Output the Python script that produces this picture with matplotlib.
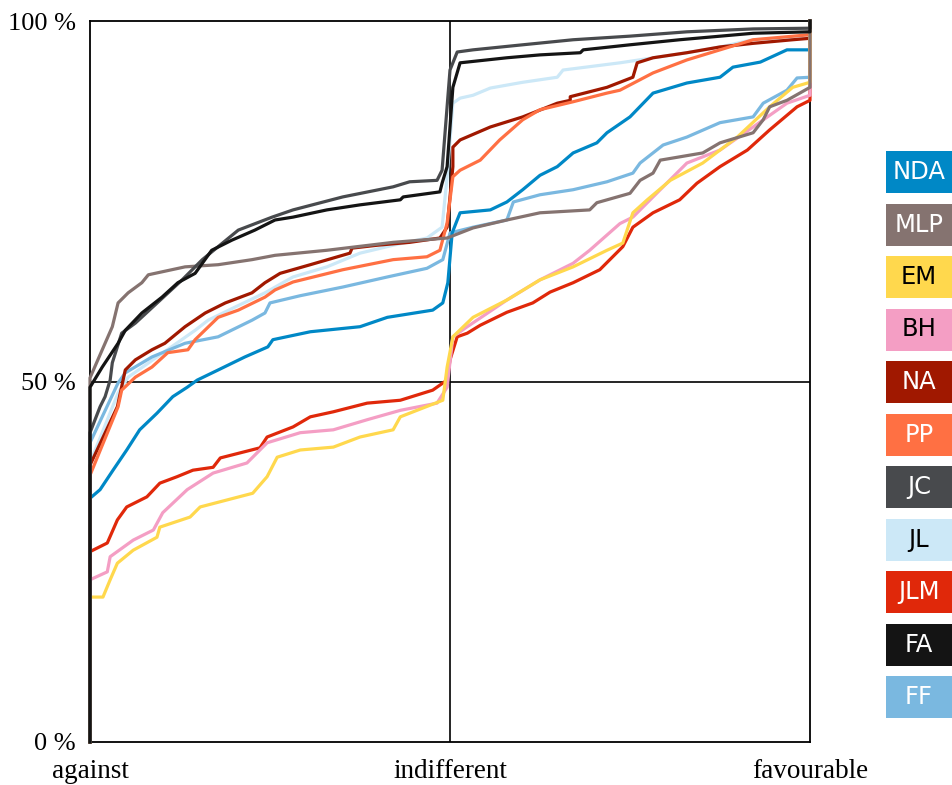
import matplotlib
matplotlib.use("Agg")
import matplotlib.pyplot as plt
from matplotlib.patches import Rectangle

# opinion scale: 0 = against, 50 = indifferent, 100 = favourable ; y = cumulative share (%)
nda_x = [0, 0, 1.4, 3.2, 5.1, 6.9, 9.3, 11.5, 13.5, 14.9, 17.8, 21.5, 24.7, 25.4, 30.6, 37.5, 41.3, 47.6, 49.0, 49.7,
         50.3, 51.0, 51.4, 55.6, 57.9, 60.1, 62.5, 64.9, 67.1, 70.4, 71.8, 75.0, 78.2, 82.9, 87.5, 89.3, 93.1, 96.8, 100, 100]
nda_y = [0, 33.8, 35.0, 37.7, 40.5, 43.3, 45.6, 47.9, 49.2, 50.2, 51.6, 53.4, 54.8, 55.8, 56.9, 57.6, 58.9, 59.9, 60.9, 63.7,
         70.6, 72.4, 73.4, 73.8, 74.9, 76.6, 78.6, 79.8, 81.7, 83.1, 84.5, 86.7, 90.0, 91.4, 92.2, 93.6, 94.3, 96.0, 96.0, 100]

mlp_x = [0, 0, 1.7, 3.1, 3.9, 5.3, 7.2, 8.1, 13.2, 17.8, 22.5, 25.7, 32.9, 42.1, 49.6, 53.2, 57.9, 62.5, 69.4, 70.4,
         75.0, 76.4, 78.2, 79.2, 85.1, 87.5, 92.1, 93.5, 94.4, 96.8, 100, 100]
mlp_y = [0, 50.5, 54.4, 57.6, 60.9, 62.3, 63.7, 64.8, 65.9, 66.2, 66.9, 67.5, 68.2, 69.3, 69.9, 71.3, 72.4, 73.4, 73.8, 74.8,
         76.1, 77.9, 78.9, 80.7, 81.7, 83.1, 84.5, 86.3, 88.1, 89.0, 90.8, 100]

em_x = [0, 0, 1.8, 2.8, 3.8, 6.0, 9.3, 9.7, 13.9, 15.3, 22.6, 24.6, 26.0, 29.2, 33.8, 37.5, 42.1, 43.1, 49.0, 49.6,
        50.4, 53.2, 57.9, 62.5, 67.1, 71.8, 74.0, 75.4, 77.4, 80.6, 85.1, 89.9, 94.4, 97.6, 100, 100]
em_y = [0, 20.1, 20.1, 22.5, 24.8, 26.6, 28.4, 29.8, 31.2, 32.6, 34.5, 36.8, 39.5, 40.5, 40.9, 42.3, 43.3, 45.1, 47.4, 52.0,
        56.2, 58.9, 61.3, 64.1, 65.9, 68.2, 69.2, 73.4, 75.2, 77.9, 80.3, 83.9, 88.1, 90.8, 91.5, 100]

bh_x = [0, 0, 2.4, 2.8, 6.0, 8.8, 10.1, 13.5, 17.1, 21.8, 24.6, 29.2, 33.8, 38.5, 43.1, 48.2, 49.6, 50.4, 52.4, 57.9,
        62.5, 67.1, 69.4, 73.6, 75.4, 78.2, 82.9, 87.5, 92.1, 96.8, 100, 100]
bh_y = [0, 22.5, 23.6, 25.7, 28.0, 29.4, 31.8, 35.0, 37.3, 38.7, 41.5, 42.9, 43.3, 44.7, 46.0, 47.0, 49.2, 56.2, 57.6, 61.3,
        64.1, 66.4, 68.2, 71.9, 72.8, 75.6, 80.3, 82.1, 85.3, 88.6, 89.7, 100]

na_x = [0, 0, 3.8, 4.9, 6.3, 8.6, 10.4, 13.2, 16.0, 18.8, 22.5, 24.3, 26.4, 30.6, 36.1, 36.4, 39.9, 44.4, 48.6, 49.6,
        50.4, 50.4, 51.4, 55.6, 60.1, 64.9, 66.7, 66.7, 71.8, 75.4, 76.0, 78.2, 82.9, 87.5, 92.1, 97.6, 100, 100]
na_y = [0, 38.4, 46.5, 51.6, 53.0, 54.4, 55.3, 57.6, 59.5, 60.9, 62.3, 63.7, 65.0, 66.2, 67.8, 68.5, 68.9, 69.3, 69.9, 71.4,
        79.8, 82.5, 83.5, 85.3, 86.7, 88.6, 89.0, 89.5, 90.8, 92.2, 94.2, 94.9, 95.6, 96.4, 96.9, 97.4, 97.6, 100]

pp_x = [0, 0, 3.9, 4.4, 6.3, 8.6, 10.8, 13.6, 14.6, 17.8, 20.6, 24.3, 25.7, 28.2, 35.1, 42.1, 46.8, 48.6, 49.6, 50.4,
        51.4, 54.2, 56.9, 60.1, 62.5, 67.1, 71.8, 73.6, 78.2, 82.9, 87.5, 92.1, 100, 100]
pp_y = [0, 37.0, 46.5, 48.8, 50.6, 52.0, 54.0, 54.4, 55.8, 58.9, 59.9, 61.7, 62.7, 63.8, 65.5, 66.9, 67.3, 68.2, 72.0, 78.4,
        79.3, 80.7, 83.5, 86.3, 87.7, 88.8, 90.0, 90.4, 92.8, 94.6, 96.0, 97.4, 98.1, 100]

jc_x = [0, 0, 1.4, 2.1, 2.8, 3.1, 4.4, 6.3, 12.8, 15.6, 20.6, 25.3, 28.2, 35.1, 42.1, 44.4, 48.2, 48.9, 50.0, 51.0,
        53.2, 60.1, 67.1, 75.0, 82.9, 92.1, 100, 100]
jc_y = [0, 42.9, 46.5, 47.9, 50.2, 52.6, 56.7, 58.1, 64.1, 66.9, 71.0, 72.8, 73.8, 75.6, 77.0, 77.7, 77.9, 79.3, 93.2, 95.7,
        96.0, 96.7, 97.4, 97.9, 98.5, 98.9, 99.0, 100]

jl_x = [0, 0, 3.9, 5.3, 14.6, 16.4, 20.1, 24.3, 28.2, 32.9, 37.5, 42.1, 46.8, 48.9, 49.6, 50.4, 51.4, 53.2, 55.6, 60.1,
        64.9, 65.7, 73.6, 82.9, 87.5, 92.1, 100, 100]
jl_y = [0, 38.7, 48.4, 50.6, 57.1, 58.5, 60.3, 62.3, 64.5, 65.9, 67.8, 68.9, 69.9, 71.4, 78.4, 88.6, 89.3, 89.7, 90.7, 91.5,
        92.2, 93.2, 94.2, 95.6, 96.4, 97.4, 97.8, 100]

jlm_x = [0, 0, 2.4, 3.8, 5.1, 7.9, 9.7, 12.1, 14.3, 17.1, 18.1, 23.6, 24.6, 28.2, 30.6, 33.8, 38.5, 43.1, 47.6, 49.6,
         50.0, 51.0, 52.4, 54.2, 57.9, 61.5, 63.9, 67.1, 70.8, 72.2, 74.0, 75.4, 78.2, 81.9, 84.3, 87.5, 91.3, 94.4,
         98.2, 100, 100]
jlm_y = [0, 26.4, 27.6, 30.8, 32.6, 34.0, 35.9, 36.8, 37.7, 38.1, 39.4, 40.8, 42.3, 43.7, 45.1, 45.8, 47.0, 47.4, 48.8, 50.2,
         53.0, 56.2, 56.7, 57.8, 59.6, 60.9, 62.4, 63.7, 65.5, 66.9, 68.7, 71.4, 73.4, 75.2, 77.5, 79.8, 82.1, 84.9,
         88.1, 89.0, 100]

fa_x = [0, 0, 1.7, 3.9, 4.9, 7.2, 10.0, 12.2, 14.6, 16.9, 19.7, 22.9, 25.7, 28.2, 32.9, 37.5, 43.1, 43.5, 48.6, 48.9,
        49.6, 50.4, 51.4, 57.9, 62.5, 68.1, 68.5, 75.0, 81.9, 92.1, 100, 100]
fa_y = [0, 49.2, 52.0, 55.3, 57.1, 59.5, 61.7, 63.7, 65.0, 68.2, 69.6, 71.0, 72.4, 72.8, 73.8, 74.5, 75.2, 75.6, 76.3, 77.5,
        79.8, 90.8, 94.2, 94.9, 95.3, 95.6, 96.0, 96.7, 97.4, 98.3, 98.5, 100]

ff_x = [0, 0, 3.9, 4.9, 8.6, 13.2, 17.8, 22.5, 24.3, 25.0, 29.2, 35.1, 41.3, 46.8, 49.0, 50.0, 53.2, 57.9, 58.8, 62.5,
        67.1, 71.8, 75.4, 76.4, 79.6, 82.9, 87.5, 92.1, 93.5, 96.8, 98.2, 100, 100]
ff_y = [0, 41.5, 49.8, 51.2, 53.4, 55.3, 56.2, 58.5, 59.5, 60.9, 61.9, 63.1, 64.5, 65.7, 66.9, 70.6, 71.4, 72.4, 74.9, 75.9,
        76.6, 77.7, 78.9, 80.3, 82.8, 83.9, 85.9, 86.7, 88.6, 90.4, 92.1, 92.2, 100]

names = ['NDA', 'MLP', 'EM', 'BH', 'NA', 'PP', 'JC', 'JL', 'JLM', 'FA', 'FF']
colors = ['#0088c6', '#857370', '#ffd84d', '#f49ec4', '#a01800', '#ff7043',
          '#484a4d', '#cce8f7', '#e0280a', '#141414', '#7ab8e0']
text_colors = ['white', 'white', 'black', 'black', 'white', 'white',
               'white', 'black', 'white', 'white', 'white']
series = {'NDA': (nda_x, nda_y), 'MLP': (mlp_x, mlp_y), 'EM': (em_x, em_y), 'BH': (bh_x, bh_y),
          'NA': (na_x, na_y), 'PP': (pp_x, pp_y), 'JC': (jc_x, jc_y), 'JL': (jl_x, jl_y),
          'JLM': (jlm_x, jlm_y), 'FA': (fa_x, fa_y), 'FF': (ff_x, ff_y)}
draw_order = ['JL', 'FF', 'NDA', 'NA', 'PP', 'JLM', 'BH', 'EM', 'MLP', 'JC', 'FA']

fig = plt.figure(figsize=(9.52, 7.85), dpi=100)
ax = fig.add_axes([90 / 952, 43 / 785, 720 / 952, 721 / 785])

for name in draw_order:
    x, y = series[name]
    ax.plot(x, y, color=colors[names.index(name)], lw=2.3, clip_on=False, zorder=3)

ax.axvline(50, color='black', lw=1.2, zorder=2)
ax.axhline(50, color='black', lw=1.2, zorder=2)
ax.set_xlim(0, 100)
ax.set_ylim(0, 100)
for s in ax.spines.values():
    s.set_linewidth(1.3)
    s.set_zorder(1)

serif = ['Liberation Serif', 'DejaVu Serif']
ax.set_xticks([0, 50, 100])
ax.set_xticklabels(['against', 'indifferent', 'favourable'], family=serif, size=19.5)
ax.set_yticks([0, 50, 100])
ax.set_yticklabels(['0 %', '50 %', '100 %'], family=serif, size=19)
ax.tick_params(length=0)
ax.tick_params(axis='x', pad=12)
ax.tick_params(axis='y', pad=10)

# legend as coloured boxes on the right
for i, name in enumerate(names):
    top = 151 + i * 52.5
    fig.patches.append(Rectangle((886 / 952, 1 - (top + 42) / 785), 80 / 952, 42 / 785,
                                 transform=fig.transFigure, facecolor=colors[i], edgecolor='none'))
    fig.text(919 / 952, 1 - (top + 21) / 785, name, color=text_colors[i], ha='center', va='center',
             family='DejaVu Sans', size=17.5)

plt.savefig('out.png', dpi=100)
